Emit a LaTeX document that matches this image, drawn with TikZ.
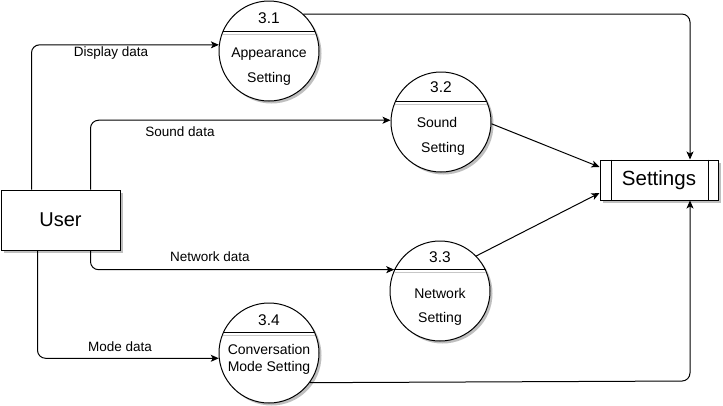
\documentclass[tikz,border=0pt]{standalone}
\usepackage{fontspec}
\setmainfont{Liberation Sans}
\usetikzlibrary{arrows.meta,shadows}
\begin{document}
\begin{tikzpicture}[x=1pt,y=1pt,
  every node/.style={inner sep=0pt},
  proc/.style={circle, draw, line width=1pt, fill=white, minimum size=100pt,
    drop shadow={shadow xshift=2.5pt, shadow yshift=-2.5pt, fill=black, opacity=0.25}},
  ent/.style={rectangle, draw, line width=1pt, fill=white,
    drop shadow={shadow xshift=3pt, shadow yshift=-3pt, fill=black, opacity=0.25}},
  flow/.style={draw, line width=1pt, rounded corners=8pt, -{Stealth[length=8pt,width=7pt,inset=2pt]}},
  num/.style={font=\fontsize{15.5}{18}\selectfont, text height=11pt, text depth=0pt},
  txt/.style={font=\fontsize{14}{16}\selectfont, text height=10pt, text depth=0pt},
  lbl/.style={font=\fontsize{13.5}{16}\selectfont, text height=9.7pt, text depth=0pt},
  divider/.style={line width=1pt},
  divshadow/.style={line width=1pt, black!22}
]
\useasboundingbox (0,0) rectangle (723,-405);

% entities
\node[ent, minimum width=119pt, minimum height=60pt, font=\fontsize{20}{24}\selectfont] (user) at (60.5,-220) {User};
\node[ent, minimum width=118pt, minimum height=40pt, font=\fontsize{20.5}{24}\selectfont] (set) at (659,-180) {Settings};
\draw[divider] ([xshift=12pt]set.north west) -- ([xshift=12pt]set.south west);
\draw[divider] ([xshift=-10pt]set.north east) -- ([xshift=-10pt]set.south east);

% processes
\node[proc] (c1) at (269,-51) {};
\node[proc] (c2) at (441,-122) {};
\node[proc] (c3) at (440,-291) {};
\node[proc] (c4) at (269,-353) {};

\draw[divshadow] ([yshift=-3pt]c1.157) -- ([yshift=-3pt]c1.23);
\draw[divider] (c1.157) -- (c1.23);
\draw[divshadow] ([yshift=-3pt]c2.156) -- ([yshift=-3pt]c2.24);
\draw[divider] (c2.156) -- (c2.24);
\draw[divshadow] ([yshift=-3pt]c3.155) -- ([yshift=-3pt]c3.25);
\draw[divider] (c3.155) -- (c3.25);
\draw[divshadow] ([yshift=-3pt]c4.156) -- ([yshift=-3pt]c4.24);
\draw[divider] (c4.156) -- (c4.24);

\node[num] (n1) at (269,-18) {3.1};
\node[txt] (a1) at (269,-52) {Appearance};
\node[txt] (b1) at (269,-77) {Setting};
\node[num] (n2) at (441,-87) {3.2};
\node[txt] (a2) at (437,-122) {Sound};
\node[txt] (b2) at (443,-147) {Setting};
\node[num] (n3) at (440,-257) {3.3};
\node[txt] (a3) at (440,-293) {Network};
\node[txt] (b3) at (440,-317) {Setting};
\node[num] (n4) at (269,-320) {3.4};
\node[txt] (a4) at (269,-349) {Conversation};
\node[txt] (b4) at (269,-366) {Mode Setting};

% flows from user
\draw[flow] ([xshift=31pt]user.north west) |- (c1.173);
\draw[flow] ([xshift=90pt]user.north west) |- (c2.178);
\draw[flow] ([xshift=90pt]user.south west) |- (c3.155);
\draw[flow] ([xshift=37pt]user.south west) |- (c4.186);

% flow labels
\node[lbl] (l1) at (111,-52) {Display data};
\node[lbl] (l2) at (180,-132) {Sound data};
\node[lbl] (l3) at (210,-257) {Network data};
\node[lbl] (l4) at (120,-347) {Mode data};

% flows to settings
\draw[flow] (c1.47) -| ([xshift=31pt]set.north);
\draw[flow] (c2.-2) -- ([yshift=13pt]set.west);
\draw[flow] (c3.44) -- ([yshift=-13pt]set.west);
\coordinate (k4) at (690,-381);
\draw[flow] (c4.-36) -- (k4) -- ([xshift=31pt]set.south);
\end{tikzpicture}
\end{document}
